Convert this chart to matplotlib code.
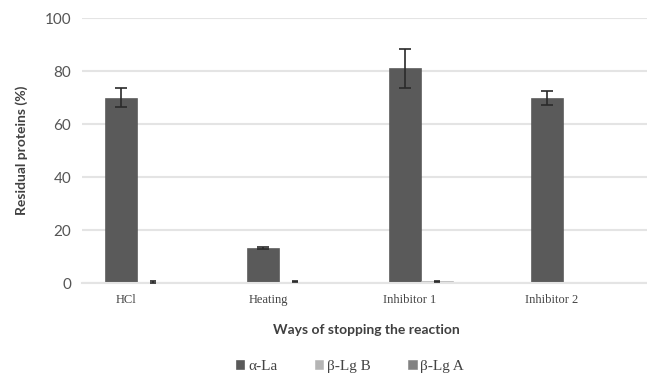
import matplotlib.pyplot as plt
import numpy as np

categories = ["HCl", "Heating", "Inhibitor 1", "Inhibitor 2"]
series = ["α-La", "β-Lg B", "β-Lg A"]
alpha_la = [70.0, 13.3, 81.0, 69.8]
alpha_la_err = [3.7, 0.4, 7.5, 2.6]
lg_b = [0.4, 0.5, 0.6, 0.0]
lg_b_err = [0.5, 0.3, 0.3, 0.0]
lg_a = [0.0, 0.0, 0.0, 0.0]
lg_a_err = [0.0, 0.0, 0.0, 0.0]

colors = ["#5a5a5a", "#b5b5b5", "#828282"]

fig = plt.figure(figsize=(6.47, 3.78), dpi=100)
ax = fig.add_axes([0.127, 0.2513, 0.877, 0.7007])

x = np.arange(len(categories))
w = 0.226
vals = [alpha_la, lg_b, lg_a]
errs = [alpha_la_err, lg_b_err, lg_a_err]
for k in range(3):
    ax.bar(x + (k - 1) * w, vals[k], w, color=colors[k], label=series[k],
           zorder=2, edgecolor="#4a4a4a" if k == 0 else colors[k], linewidth=0.4)
    e = np.array(errs[k])
    m = e > 0
    cap = 4 if k == 0 else 2.5
    ax.errorbar((x + (k - 1) * w)[m], np.array(vals[k])[m], yerr=e[m], fmt="none",
                ecolor="#2a2a2a", elinewidth=1.2, capsize=cap, capthick=1.2, zorder=3)

ax.set_xlim(-0.5, 3.5)
ax.set_ylim(0, 100)
ax.set_yticks([0, 20, 40, 60, 80, 100])
ax.yaxis.grid(True, color="#e4e4e4", linewidth=1.5, zorder=0)
ax.set_axisbelow(True)
for s in ["top", "right", "left"]:
    ax.spines[s].set_visible(False)
ax.spines["bottom"].set_color("#e4e4e4")
ax.spines["bottom"].set_linewidth(1.5)
ax.tick_params(axis="y", length=0, pad=8, labelsize=11, labelcolor="#555555")
ax.tick_params(axis="x", length=0, pad=8, labelsize=9, labelcolor="#444444")
for t in ax.get_yticklabels():
    t.set_family("Lato")

ax.set_xticks(x - 0.19)
ax.set_xticklabels(categories, family="Liberation Serif")

ax.set_ylabel("Residual proteins (%)", family="Lato", fontweight="bold",
              fontsize=10, color="#404040", labelpad=12)
ax.set_xlabel("Ways of stopping the reaction", family="Lato", fontweight="bold",
              fontsize=10, color="#404040", labelpad=13)

leg = ax.legend(loc="upper left", bbox_to_anchor=(0.271, -0.29), ncol=3,
                frameon=False, handlelength=0.55, handleheight=0.55,
                handletextpad=0.25, columnspacing=2.45, borderpad=0,
                borderaxespad=0, prop={"family": "Liberation Serif", "size": 11})
for t in leg.get_texts():
    t.set_color("#444444")

fig.savefig("out.png", dpi=100)
